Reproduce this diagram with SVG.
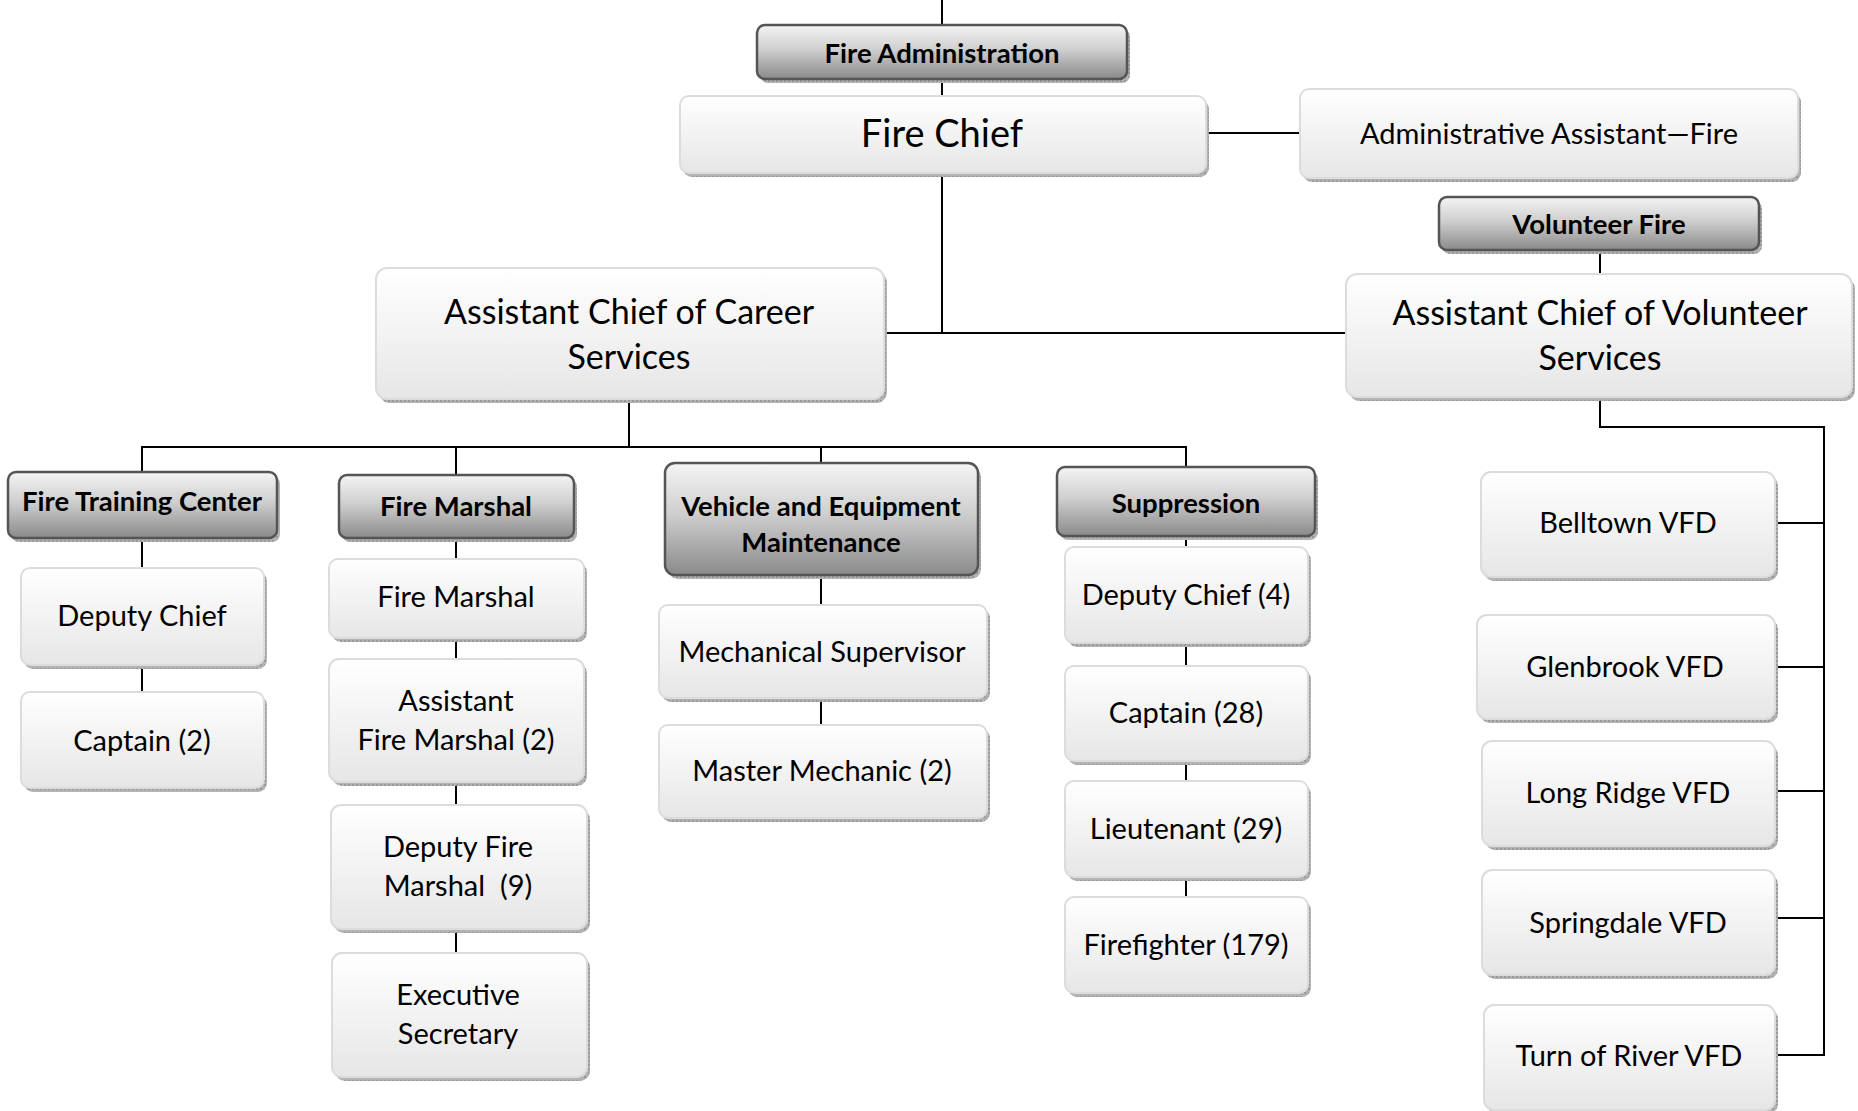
<svg xmlns="http://www.w3.org/2000/svg" width="1858" height="1111" viewBox="0 0 1858 1111">
<defs>
<linearGradient id="gLight" x1="0" y1="0" x2="0" y2="1">
<stop offset="0" stop-color="#ffffff"/>
<stop offset="1" stop-color="#e6e6e6"/>
</linearGradient>
<linearGradient id="gDark" x1="0" y1="0" x2="0" y2="1">
<stop offset="0" stop-color="#f4f4f4"/>
<stop offset="0.45" stop-color="#cfcfcf"/>
<stop offset="1" stop-color="#8a8a8a"/>
</linearGradient>
<pattern id="shadowPat" width="4" height="4" patternUnits="userSpaceOnUse">
<rect width="4" height="4" fill="#b3b3b3"/>
<rect width="2" height="2" fill="#999"/>
</pattern>
</defs>
<style>
.box{fill:url(#gLight);stroke:#dcdcdc;stroke-width:2}
.hdr{fill:url(#gDark);stroke:#555;stroke-width:2.5}
.sh{fill:url(#shadowPat)}
text{transform:translateY(-2px)}
.t{font-family:Lato,"Open Sans","DejaVu Sans",sans-serif;font-size:29px;fill:#000;text-anchor:middle;dominant-baseline:central}
.tb{font-family:Lato,"Open Sans","DejaVu Sans",sans-serif;font-size:27.5px;font-weight:bold;fill:#000;text-anchor:middle;dominant-baseline:central}
.tl{font-family:Lato,"Open Sans","DejaVu Sans",sans-serif;font-size:34px;fill:#000;text-anchor:middle;dominant-baseline:central}
.tx{font-family:Lato,"Open Sans","DejaVu Sans",sans-serif;font-size:38px;fill:#000;text-anchor:middle;dominant-baseline:central}
.ln{stroke:#000;stroke-width:2;fill:none}
</style>
<rect width="1858" height="1111" fill="#fff"/>
<g id="connectors">
<path class="ln" d="M942,0V25"/>
<path class="ln" d="M942,79V96"/>
<path class="ln" d="M942,173V333"/>
<path class="ln" d="M1206,133H1300"/>
<path class="ln" d="M884,333H1346"/>
<path class="ln" d="M1600,250V274"/>
<path class="ln" d="M629,399V447"/>
<path class="ln" d="M142,472V447H1186V467"/>
<path class="ln" d="M456,447V475"/>
<path class="ln" d="M821,447V463"/>
<path class="ln" d="M142,538V568M142,665V692"/>
<path class="ln" d="M456,538V559M456,638V659M456,782V805M456,929V953"/>
<path class="ln" d="M821,575V605M821,698V725"/>
<path class="ln" d="M1186,536V547M1186,643V666M1186,761V781M1186,877V897"/>
<path class="ln" d="M1600,397V427H1824V1055H1775"/>
<path class="ln" d="M1775,523H1824M1775,667H1824M1775,791H1824M1775,918H1824"/>
</g>
<g id="n-fire-admin"><rect class="sh" x="760" y="29" width="370" height="54" rx="8"/><rect class="hdr" x="757" y="25" width="370" height="54" rx="8"/><text class="tb" x="942" y="54">Fire Administration</text></g>
<g id="n-fire-chief"><rect class="sh" x="683" y="100" width="526" height="77" rx="9"/><rect class="box" x="680" y="96" width="526" height="77" rx="9"/><text class="tx" x="942" y="134">Fire Chief</text></g>
<g id="n-admin-asst"><rect class="sh" x="1303" y="93" width="498" height="89" rx="9"/><rect class="box" x="1300" y="89" width="498" height="89" rx="9"/><text class="t" x="1549" y="134">Administrative Assistant—Fire</text></g>
<g id="n-vol-fire"><rect class="sh" x="1442" y="201" width="320" height="53" rx="8"/><rect class="hdr" x="1439" y="197" width="320" height="53" rx="8"/><text class="tb" x="1599" y="225">Volunteer Fire</text></g>
<g id="n-ac-vol"><rect class="sh" x="1349" y="278" width="506" height="123" rx="11"/><rect class="box" x="1346" y="274" width="506" height="123" rx="11"/><text class="tl" x="1600" y="313">Assistant Chief of Volunteer</text><text class="tl" x="1600" y="358">Services</text></g>
<g id="n-ac-career"><rect class="sh" x="379" y="272" width="508" height="131" rx="11"/><rect class="box" x="376" y="268" width="508" height="131" rx="11"/><text class="tl" x="629" y="312">Assistant Chief of Career</text><text class="tl" x="629" y="357">Services</text></g>
<g id="n-training"><rect class="sh" x="11" y="476" width="269" height="66" rx="8"/><rect class="hdr" x="8" y="472" width="269" height="66" rx="8"/><text class="tb" x="142" y="502">Fire Training Center</text></g>
<g id="n-marshal-hdr"><rect class="sh" x="342" y="479" width="235" height="63" rx="8"/><rect class="hdr" x="339" y="475" width="235" height="63" rx="8"/><text class="tb" x="456" y="507">Fire Marshal</text></g>
<g id="n-vehicle"><rect class="sh" x="668" y="467" width="313" height="112" rx="10"/><rect class="hdr" x="665" y="463" width="313" height="112" rx="10"/><text class="tb" x="821" y="507">Vehicle and Equipment</text><text class="tb" x="821" y="543">Maintenance</text></g>
<g id="n-suppression"><rect class="sh" x="1060" y="471" width="258" height="69" rx="8"/><rect class="hdr" x="1057" y="467" width="258" height="69" rx="8"/><text class="tb" x="1186" y="504">Suppression</text></g>
<g id="n-tc-deputy"><rect class="sh" x="24" y="572" width="243" height="97" rx="9"/><rect class="box" x="21" y="568" width="243" height="97" rx="9"/><text class="t" x="142" y="616">Deputy Chief</text></g>
<g id="n-tc-captain"><rect class="sh" x="24" y="696" width="243" height="96" rx="9"/><rect class="box" x="21" y="692" width="243" height="96" rx="9"/><text class="t" x="142" y="741">Captain (2)</text></g>
<g id="n-fm"><rect class="sh" x="332" y="563" width="255" height="79" rx="9"/><rect class="box" x="329" y="559" width="255" height="79" rx="9"/><text class="t" x="456" y="597">Fire Marshal</text></g>
<g id="n-afm"><rect class="sh" x="332" y="663" width="255" height="123" rx="10"/><rect class="box" x="329" y="659" width="255" height="123" rx="10"/><text class="t" x="456" y="701">Assistant</text><text class="t" x="456" y="740">Fire Marshal (2)</text></g>
<g id="n-dfm"><rect class="sh" x="334" y="809" width="256" height="124" rx="10"/><rect class="box" x="331" y="805" width="256" height="124" rx="10"/><text class="t" x="458" y="847">Deputy Fire</text><text class="t" x="458" y="886" style="white-space:pre">Marshal  (9)</text></g>
<g id="n-exec"><rect class="sh" x="335" y="957" width="255" height="124" rx="10"/><rect class="box" x="332" y="953" width="255" height="124" rx="10"/><text class="t" x="458" y="995">Executive</text><text class="t" x="458" y="1034">Secretary</text></g>
<g id="n-mech-sup"><rect class="sh" x="662" y="609" width="328" height="93" rx="9"/><rect class="box" x="659" y="605" width="328" height="93" rx="9"/><text class="t" x="822" y="652">Mechanical Supervisor</text></g>
<g id="n-master-mech"><rect class="sh" x="662" y="729" width="328" height="93" rx="9"/><rect class="box" x="659" y="725" width="328" height="93" rx="9"/><text class="t" x="822" y="771">Master Mechanic (2)</text></g>
<g id="n-sup-deputy"><rect class="sh" x="1068" y="551" width="243" height="96" rx="9"/><rect class="box" x="1065" y="547" width="243" height="96" rx="9"/><text class="t" x="1186" y="595">Deputy Chief (4)</text></g>
<g id="n-sup-captain"><rect class="sh" x="1068" y="670" width="243" height="95" rx="9"/><rect class="box" x="1065" y="666" width="243" height="95" rx="9"/><text class="t" x="1186" y="713">Captain (28)</text></g>
<g id="n-sup-lt"><rect class="sh" x="1068" y="785" width="243" height="96" rx="9"/><rect class="box" x="1065" y="781" width="243" height="96" rx="9"/><text class="t" x="1186" y="829">Lieutenant (29)</text></g>
<g id="n-sup-ff"><rect class="sh" x="1068" y="901" width="243" height="96" rx="9"/><rect class="box" x="1065" y="897" width="243" height="96" rx="9"/><text class="t" x="1186" y="945">Firefighter (179)</text></g>
<g id="n-belltown"><rect class="sh" x="1484" y="476" width="294" height="105" rx="10"/><rect class="box" x="1481" y="472" width="294" height="105" rx="10"/><text class="t" x="1628" y="523">Belltown VFD</text></g>
<g id="n-glenbrook"><rect class="sh" x="1480" y="619" width="298" height="104" rx="10"/><rect class="box" x="1477" y="615" width="298" height="104" rx="10"/><text class="t" x="1625" y="667">Glenbrook VFD</text></g>
<g id="n-longridge"><rect class="sh" x="1485" y="745" width="293" height="105" rx="10"/><rect class="box" x="1482" y="741" width="293" height="105" rx="10"/><text class="t" x="1628" y="793">Long Ridge VFD</text></g>
<g id="n-springdale"><rect class="sh" x="1485" y="874" width="293" height="105" rx="10"/><rect class="box" x="1482" y="870" width="293" height="105" rx="10"/><text class="t" x="1628" y="923">Springdale VFD</text></g>
<g id="n-turnofriver"><rect class="sh" x="1487" y="1009" width="291" height="105" rx="10"/><rect class="box" x="1484" y="1005" width="291" height="105" rx="10"/><text class="t" x="1629" y="1056">Turn of River VFD</text></g>
</svg>
